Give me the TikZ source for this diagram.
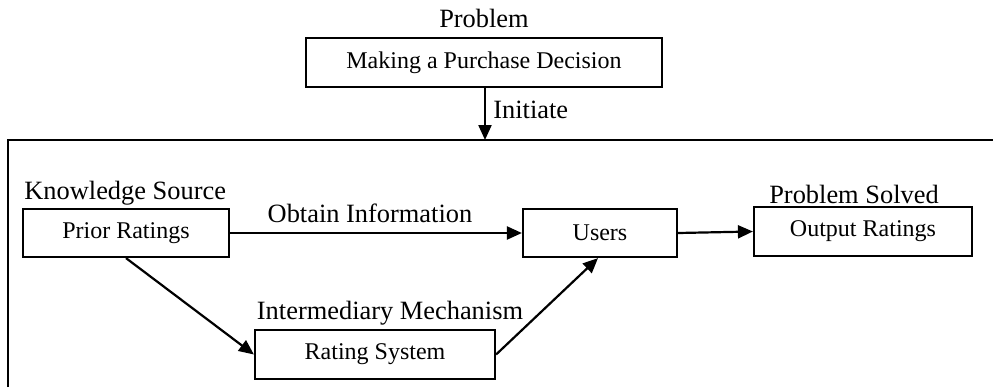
\documentclass[tikz,border=0pt]{standalone}
\usepackage{fontspec}
\setmainfont{Liberation Serif}
\usetikzlibrary{arrows.meta}

\begin{document}
\begin{tikzpicture}[x=0.5pt, y=-0.5pt,
		box/.style={draw, line width=1.1pt, inner sep=0pt, font=\fontsize{12}{14}\selectfont},
		lbl/.style={inner sep=0pt, font=\fontsize{13.2}{15}\selectfont},
		arr/.style={line width=1.1pt, -{Triangle[length=7.5pt, width=6.5pt]}}]
		%%%%% START %%%%%
		\useasboundingbox (0, 0) rectangle (993, 387);
		
		\draw[line width=1.1pt] (8, 387) -- (8, 140) -- (993, 140);
		\coordinate (frametop) at (485, 140);
		
		\node[lbl] (problem) at (484, 18) {Problem};
		\node[box, minimum width=178pt, minimum height=24.5pt] (decision) at (484, 62.5) {Making a Purchase Decision};
		\node[lbl, anchor=west] (initiate) at (493, 110) {Initiate};
		
		\node[lbl, anchor=west] (knowledge) at (24, 193) {Knowledge Source};
		\node[box, minimum width=103pt, minimum height=24pt] (prior) at (126, 233) {Prior Ratings};
		
		\node[lbl] (obtain) at (370, 213) {Obtain Information};
		\node[box, minimum width=77pt, minimum height=24pt] (users) at (600, 233) {Users};
		
		\node[lbl] (solved) at (854, 194) {Problem Solved};
		\node[box, minimum width=109pt, minimum height=24.5pt] (output) at (863, 231.5) {Output Ratings};
		
		\node[lbl] (mechanism) at (390, 313) {Intermediary Mechanism};
		\node[box, minimum width=120pt, minimum height=24.5pt] (rating) at (375, 354.5) {Rating System};
		
		\draw[arr] (decision.south -| frametop) -- (frametop);
		\draw[arr] (prior.east) -- (users.west);
		\draw[arr] (prior.south) -- (rating.west);
		\draw[arr] (rating.east) -- ([xshift=-1pt]users.south);
		\draw[arr] (users.east) -- (output.west);
		%%%%% END %%%%%
\end{tikzpicture}
\end{document}
